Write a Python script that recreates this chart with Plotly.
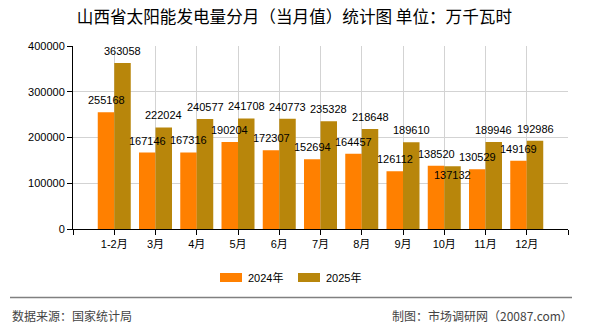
import plotly.graph_objects as go

categories = ["1-2月", "3月", "4月", "5月", "6月", "7月", "8月", "9月", "10月", "11月", "12月"]
values_2024 = [255168, 167146, 167316, 190204, 172307, 152694, 164457, 126112, 138520, 130529, 149169]
values_2025 = [363058, 222024, 240577, 241708, 240773, 235328, 218648, 189610, 137132, 189946, 192986]
series_names = ["2024年", "2025年"]
y_ticks = [0, 100000, 200000, 300000, 400000]

# label vertical shifts in pixels (style only)
shift_2024 = [12] * 11
shift_2025 = [12, 12, 12, 12, 12, 12, 12, 12, -9, 12, 12]

C24 = "#FF8000"
C25 = "#B8860B"
NUMFONT = "Liberation Sans, Arial, Noto Sans CJK SC, sans-serif"
CJKFONT = "Noto Sans CJK SC, sans-serif"

xs = list(range(len(categories)))

fig = go.Figure()
fig.add_trace(go.Bar(x=xs, y=values_2024, name=series_names[0], marker=dict(color=C24, line=dict(width=0)), showlegend=False))
fig.add_trace(go.Bar(x=xs, y=values_2025, name=series_names[1], marker=dict(color=C25, line=dict(width=0)), showlegend=False))

annotations = []
for i, (v, s) in enumerate(zip(values_2024, shift_2024)):
    annotations.append(dict(x=i - 0.2, y=v, text=str(v), showarrow=False, xref="x", yref="y",
                            yanchor="middle", xanchor="center", yshift=s,
                            font=dict(size=11, color="#000", family=NUMFONT)))
for i, (v, s) in enumerate(zip(values_2025, shift_2025)):
    annotations.append(dict(x=i + 0.2, y=v, text=str(v), showarrow=False, xref="x", yref="y",
                            yanchor="middle", xanchor="center", yshift=s,
                            font=dict(size=11, color="#000", family=NUMFONT)))

# plot area in pixels: x 73..568, y 46..229
def px(xp):
    return (xp - 73) / 495.0
def py(yp):
    return (229 - yp) / 183.0

shapes = [
    dict(type="rect", xref="paper", yref="paper", x0=px(220), x1=px(242), y0=py(282), y1=py(273),
         fillcolor=C24, line=dict(width=0)),
    dict(type="rect", xref="paper", yref="paper", x0=px(298), x1=px(320), y0=py(282), y1=py(273),
         fillcolor=C25, line=dict(width=0)),
    dict(type="line", xref="paper", yref="paper", x0=px(10), x1=px(572), y0=py(297.5), y1=py(297.5),
         line=dict(color="#808080", width=1.5)),
]
annotations += [
    dict(x=px(246), y=py(277.5), xref="paper", yref="paper", text=series_names[0], showarrow=False,
         xanchor="left", yanchor="middle", font=dict(size=11, color="#000", family=NUMFONT)),
    dict(x=px(324), y=py(277.5), xref="paper", yref="paper", text=series_names[1], showarrow=False,
         xanchor="left", yanchor="middle", font=dict(size=11, color="#000", family=NUMFONT)),
    dict(x=px(10), y=py(315), xref="paper", yref="paper", text="数据来源：国家统计局", showarrow=False,
         xanchor="left", yanchor="middle", font=dict(size=12, color="#444", family=CJKFONT)),
    dict(x=px(575), y=py(315), xref="paper", yref="paper", text="制图：市场调研网（20087.com）", showarrow=False,
         xanchor="right", yanchor="middle", font=dict(size=12, color="#444", family=CJKFONT)),
]

fig.update_layout(
    width=590, height=330,
    margin=dict(l=73, r=22, t=46, b=101, pad=0),
    paper_bgcolor="white", plot_bgcolor="white",
    barmode="group", bargap=0.2, bargroupgap=0,
    title=dict(text="山西省太阳能发电量分月（当月值）统计图 单位：万千瓦时", x=0.499, xref="container",
               y=1 - 17.5 / 330, yanchor="middle", xanchor="center",
               font=dict(size=16.6, color="#000", family=CJKFONT)),
    xaxis=dict(range=[-1, 11], tickmode="array", tickvals=[-1] + xs + [11], ticktext=[""] + categories + [""],
               showgrid=True, gridcolor="#d3d3d3", gridwidth=1, zeroline=False,
               showline=True, linecolor="#000", linewidth=1,
               ticks="outside", ticklen=5, tickcolor="#000",
               tickfont=dict(size=11, color="#000", family=NUMFONT)),
    yaxis=dict(range=[0, 400000], tickmode="array", tickvals=y_ticks, ticktext=[str(v) for v in y_ticks],
               showgrid=True, gridcolor="#d3d3d3", gridwidth=1, zeroline=False,
               showline=True, linecolor="#000", linewidth=1,
               ticks="outside", ticklen=5, tickcolor="#000",
               tickfont=dict(size=11, color="#000", family=NUMFONT)),
    annotations=annotations,
    shapes=shapes,
    showlegend=False,
)

fig.write_html("out.html")
